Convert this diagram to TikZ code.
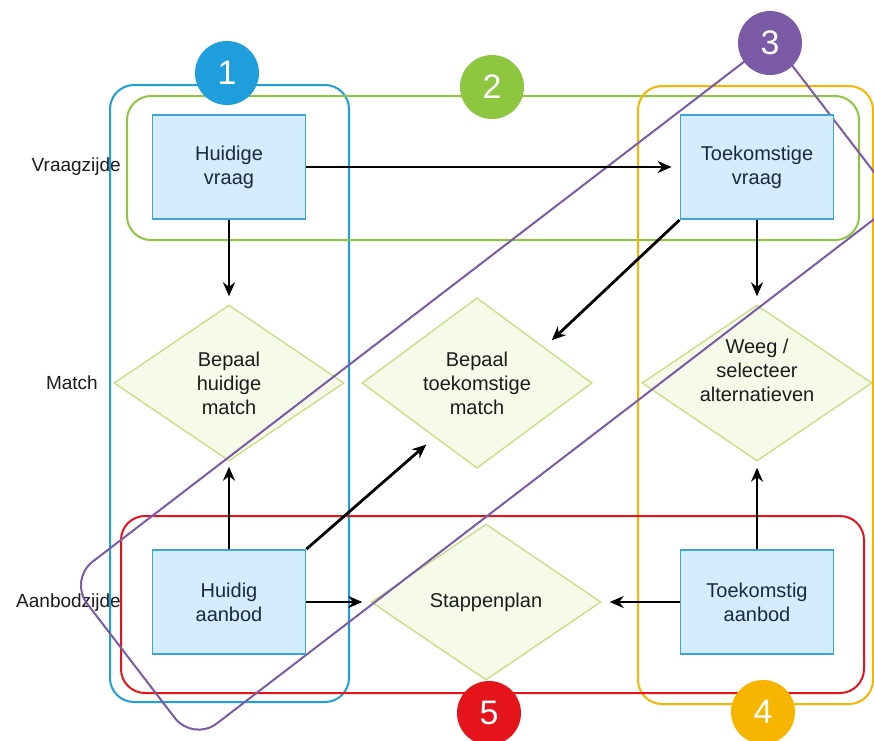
\documentclass[tikz,border=0pt]{standalone}
\usepackage{fontspec}
\setmainfont{Liberation Sans}
\usetikzlibrary{shapes.geometric,arrows.meta}
\definecolor{boxfill}{HTML}{D4ECFB}
\definecolor{boxline}{HTML}{3DA5DC}
\definecolor{dmfill}{HTML}{F5FAE9}
\definecolor{dmline}{HTML}{C9DE85}
\definecolor{navy}{HTML}{1A2845}
\definecolor{dtext}{HTML}{1C1C1C}
\definecolor{gblue}{HTML}{1E9FDB}
\definecolor{ggreen}{HTML}{8DC63F}
\definecolor{gpurple}{HTML}{7B5AA6}
\definecolor{gyellow}{HTML}{F7B500}
\definecolor{gred}{HTML}{E5141B}
\tikzset{
  txt/.style={font=\fontsize{20}{24}\selectfont, align=center},
  sbox/.style={txt, draw=boxline, fill=boxfill, line width=1.8pt, minimum width=153pt, minimum height=104pt, inner sep=0pt, text=navy},
  dmd/.style={txt, diamond, draw=dmline, fill=dmfill, line width=1.4pt, minimum width=230pt, minimum height=156pt, inner sep=0pt, text=dtext},
  grp/.style={line width=2pt, rounded corners=24pt},
  num/.style={circle, minimum size=64pt, inner sep=0pt, text=white, font=\fontsize{34}{34}\selectfont},
  side/.style={font=\fontsize{19}{23}\selectfont, text=dtext, anchor=east, inner sep=0pt},
  arr/.style={line width=2.8pt, -{Stealth[length=14pt,width=12pt]}, shorten >=8pt}
}
\begin{document}
\begin{tikzpicture}[x=1pt,y=-1pt]
\clip (0,0) rectangle (874,740);
\fill[white] (0,0) rectangle (874,740);
% diamonds
\node[dmd] (hm) at (229,383) {Bepaal\\huidige\\match};
\node[dmd] (tm) at (477,383) {Bepaal\\toekomstige\\match};
\node[dmd] (wg) at (757,383) {};
\node[txt, text=dtext, inner sep=0pt] (wgt) at (757,370) {Weeg /\\selecteer\\alternatieven};
\node[dmd] (sp) at (486,602) {Stappenplan};
% side labels
\node[side] (l1) at (121,167) {Vraagzijde};
\node[side] (l2) at (98,383) {Match};
\node[side] (l3) at (121,603) {Aanbodzijde};
% group frames
\draw[grp, draw=gblue] (110,85) rectangle (349,702);
\draw[grp, draw=ggreen] (127,96) rectangle (859,240);
\draw[grp, draw=gyellow] (638,86) rectangle (873,704);
\draw[grp, draw=gred] (121,516) rectangle (864,693);
\node[draw=gpurple, line width=2pt, rounded corners=30pt, minimum width=887pt, minimum height=204pt, inner sep=0pt, rotate=37.5] (g3) at (482.8,390.8) {};
% boxes
\node[sbox] (hv) at (229,167) {Huidige\\vraag};
\node[sbox] (tv) at (757,167) {Toekomstige\\vraag};
\node[sbox] (ha) at (229,602) {Huidig\\aanbod};
\node[sbox] (ta) at (757,602) {Toekomstig\\aanbod};
% arrows
\draw[arr] (hv.east) -- (tv.west);
\draw[arr] (hv.south) -- (hm.north);
\draw[arr, shorten >=5pt] (ha.north) -- (hm.south);
\draw[arr, shorten >=11pt] (ha.north east) -- (tm.232);
\draw[arr, shorten >=10pt] (tv.south west) -- (tm.28);
\draw[arr] (tv.south) -- (wg.north);
\draw[arr, shorten >=6pt] (ta.north) -- (wg.south);
\draw[arr] (ha.east) -- (sp.west);
\draw[arr] (ta.west) -- (sp.east);
% number circles
\node[num, fill=gblue] (c1) at (227,73) {1};
\node[num, fill=ggreen] (c2) at (492,87) {2};
\node[num, fill=gpurple] (c3) at (770,43) {3};
\node[num, fill=gyellow] (c4) at (763,712) {4};
\node[num, fill=gred] (c5) at (489,713) {5};
\end{tikzpicture}
\end{document}
